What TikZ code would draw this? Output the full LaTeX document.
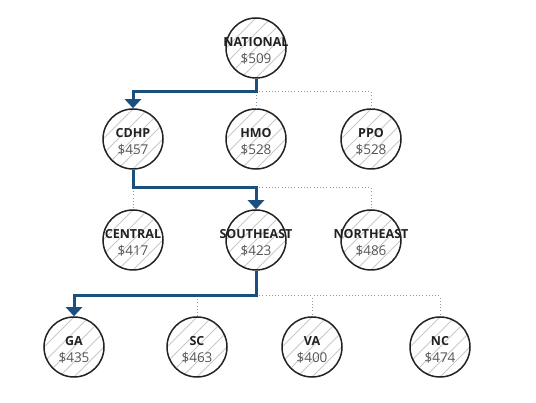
\documentclass[tikz,border=0pt]{standalone}
\usepackage{fontspec}
\setmainfont{Open Sans}
\usetikzlibrary{arrows.meta}
\definecolor{navy}{HTML}{1B4F80}
\definecolor{ink}{HTML}{222222}
\definecolor{price}{HTML}{555555}
\definecolor{hatchc}{HTML}{C8C8C8}
\definecolor{dotc}{HTML}{8A9AA8}
\tikzset{
  hatch/.style={draw=hatchc, line width=0.9pt},
  ball/.style={circle, draw=ink, line width=1.5pt, minimum size=60pt, inner sep=0pt,
    path picture={
      \foreach \i in {-45,-30,...,45}
        \draw[hatch] ([xshift=\i pt]path picture bounding box.center) +(-45pt,-45pt) -- +(45pt,45pt);
    }},
  nm/.style={font=\fontsize{12.5}{14}\selectfont\bfseries, text=ink, inner sep=0pt},
  pr/.style={font=\fontsize{13.5}{15}\selectfont, text=price, inner sep=0pt},
  main/.style={draw=navy, line width=3pt, -{Triangle[width=16pt,length=9pt]}},
  minor/.style={draw=dotc, line width=1pt, dash pattern=on 1pt off 2.2pt},
}
\newcommand{\ballnode}[4]{%
  \node[ball] (#1) at (#2) {};
  \node[nm] (#1-n) at ([yshift=6pt]#1.center) {#3};
  \node[pr] (#1-p) at ([yshift=-11pt]#1.center) {\$#4};
}
\begin{document}
\begin{tikzpicture}[x=1pt,y=-1pt]
\useasboundingbox (0,0) rectangle (536,403);
\ballnode{nat}{256,48}{NATIONAL}{509}
\ballnode{cdhp}{133,139}{CDHP}{457}
\ballnode{hmo}{256,139}{HMO}{528}
\ballnode{ppo}{371,139}{PPO}{528}
\ballnode{cen}{133,240}{CENTRAL}{417}
\ballnode{se}{256,240}{SOUTHEAST}{423}
\ballnode{ne}{371,240}{NORTHEAST}{486}
\ballnode{ga}{74,347}{GA}{435}
\ballnode{sc}{197,347}{SC}{463}
\ballnode{va}{312,347}{VA}{400}
\ballnode{nc}{440,347}{NC}{474}
\coordinate (j1) at (256,92);
\coordinate (j2) at (256,188);
\coordinate (j3) at (256,296);
% dotted connectors
\draw[minor] (j1) -- (hmo.north);
\draw[minor] (j1) -| (ppo.north);
\draw[minor] (cdhp.south |- j2) -- (cen.north);
\draw[minor] (j2) -| (ne.north);
\draw[minor] (sc.north |- j3) -- (sc.north);
\draw[minor] (j3) -| (va.north);
\draw[minor] (j3) -| (nc.north);
% main path
\draw[main] (nat.south) -- (j1) -| (cdhp.north);
\draw[main] (cdhp.south) |- (j2) -- (se.north);
\draw[main] (se.south) -- (j3) -| (ga.north);
\end{tikzpicture}
\end{document}
